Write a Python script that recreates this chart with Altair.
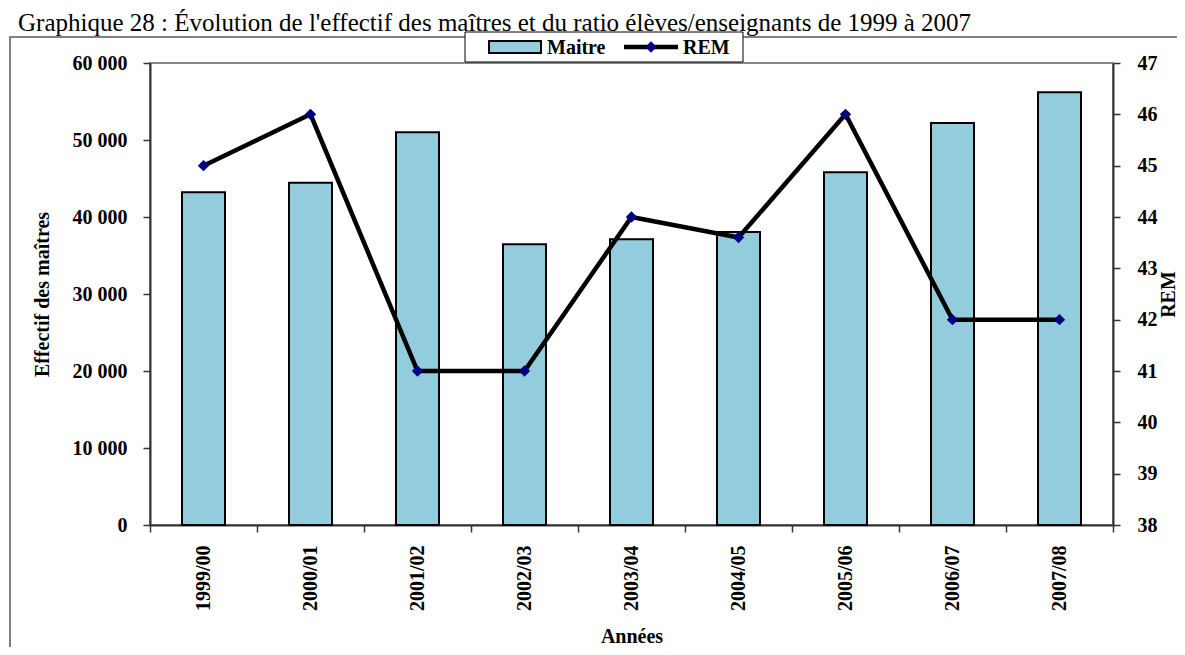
import altair as alt
import pandas as pd

# ---- data ----
annees = ["1999/00", "2000/01", "2001/02", "2002/03", "2003/04",
          "2004/05", "2005/06", "2006/07", "2007/08"]
maitres = [43200, 44450, 51000, 36450, 37100, 38050, 45800, 52200, 56200]
rem = [45, 46, 41, 41, 44, 43.6, 46, 42, 42]
left_ticks = [0, 10000, 20000, 30000, 40000, 50000, 60000]
right_ticks = [38, 39, 40, 41, 42, 43, 44, 45, 46, 47]
titre = "Graphique 28 : Évolution de l'effectif des maîtres et du ratio élèves/enseignants de 1999 à 2007"

df = pd.DataFrame({"Années": annees, "Maitre": maitres, "REM": rem})
one = pd.DataFrame({"k": [0]})

FONT = "Liberation Serif"
W, H = 963, 462
BAR = "#93CDDD"
NAVY = "#000080"

x_enc = alt.X(
    "Années:N", sort=annees,
    scale=alt.Scale(type="band", paddingInner=0, paddingOuter=0),
    axis=alt.Axis(title="Années", labelAngle=-90, tickBand="extent",
                  labelPadding=13, titlePadding=16, tickSize=7,
                  domainColor="#333333", domainWidth=2, tickColor="#333333",
                  tickWidth=1.5),
)

bars = alt.Chart(df).mark_bar(size=43, fill=BAR, stroke="black", strokeWidth=2).encode(
    x=x_enc,
    y=alt.Y("Maitre:Q",
            scale=alt.Scale(domain=[0, 60000], nice=False),
            axis=alt.Axis(title="Effectif des maîtres", values=left_ticks,
                          labelExpr="replace(format(datum.value, ','), ',', ' ')",
                          grid=False, tickSize=7, labelPadding=16, titlePadding=20,
                          domainColor="#333333", domainWidth=2,
                          tickColor="#333333", tickWidth=1.5)),
)

line = alt.Chart(df).mark_line(
    color="black", strokeWidth=4.5,
    point=alt.OverlayMarkDef(shape="diamond", filled=True, size=130, color=NAVY),
).encode(
    x=x_enc,
    y=alt.Y("REM:Q",
            scale=alt.Scale(domain=[38, 47], nice=False, zero=False),
            axis=alt.Axis(title="REM", orient="right", values=right_ticks,
                          grid=False, tickSize=7, labelPadding=17,
                          titleAngle=-90, titleBaseline="middle",
                          titleX=55, titleY=H / 2,
                          domainColor="#333333", domainWidth=2,
                          tickColor="#333333", tickWidth=1.5)),
)

# ---- decorations (frame, legend, title) ----
frame = alt.Chart(one).mark_rect(fillOpacity=0, stroke="#808080", strokeWidth=2).encode(
    x=alt.value(-140), x2=alt.value(1060), y=alt.value(-26), y2=alt.value(610))

leg_box = alt.Chart(one).mark_rect(fill="white", stroke="black", strokeWidth=1).encode(
    x=alt.value(315), x2=alt.value(593), y=alt.value(-31), y2=alt.value(-1))
leg_swatch = alt.Chart(one).mark_rect(fill=BAR, stroke="black", strokeWidth=2).encode(
    x=alt.value(339), x2=alt.value(391), y=alt.value(-22), y2=alt.value(-10))
leg_t1 = alt.Chart(one).mark_text(text="Maitre", font=FONT, fontSize=20, fontWeight="bold",
                                  align="left", baseline="middle").encode(
    x=alt.value(397), y=alt.value(-15))
leg_line = alt.Chart(one).mark_rule(color="black", strokeWidth=4.5).encode(
    x=alt.value(474), x2=alt.value(528), y=alt.value(-16))
leg_pt = alt.Chart(one).mark_point(shape="diamond", filled=True, size=130, color=NAVY,
                                   opacity=1).encode(
    x=alt.value(501), y=alt.value(-16))
leg_t2 = alt.Chart(one).mark_text(text="REM", font=FONT, fontSize=20, fontWeight="bold",
                                  align="left", baseline="middle").encode(
    x=alt.value(533), y=alt.value(-15))
title = alt.Chart(one).mark_text(text=titre, font=FONT, fontSize=25, align="left",
                                 baseline="alphabetic", color="black").encode(
    x=alt.value(-132), y=alt.value(-32))

chart = alt.layer(
    frame, bars, line, leg_box, leg_swatch, leg_t1, leg_line, leg_pt, leg_t2, title
).resolve_scale(y="independent").properties(
    width=W, height=H,
    background="white",
    autosize=alt.AutoSizeParams(type="none"),
    padding={"left": 142, "top": 55, "right": 64, "bottom": 122},
).configure_axis(
    labelFont=FONT, labelFontSize=20, labelFontWeight="bold", labelColor="black",
    titleFont=FONT, titleFontSize=20, titleFontWeight="bold", titleColor="black",
).configure_view(stroke="#888888", strokeWidth=2)

chart.save("out.html", embed_options={"renderer": "svg", "actions": False})
